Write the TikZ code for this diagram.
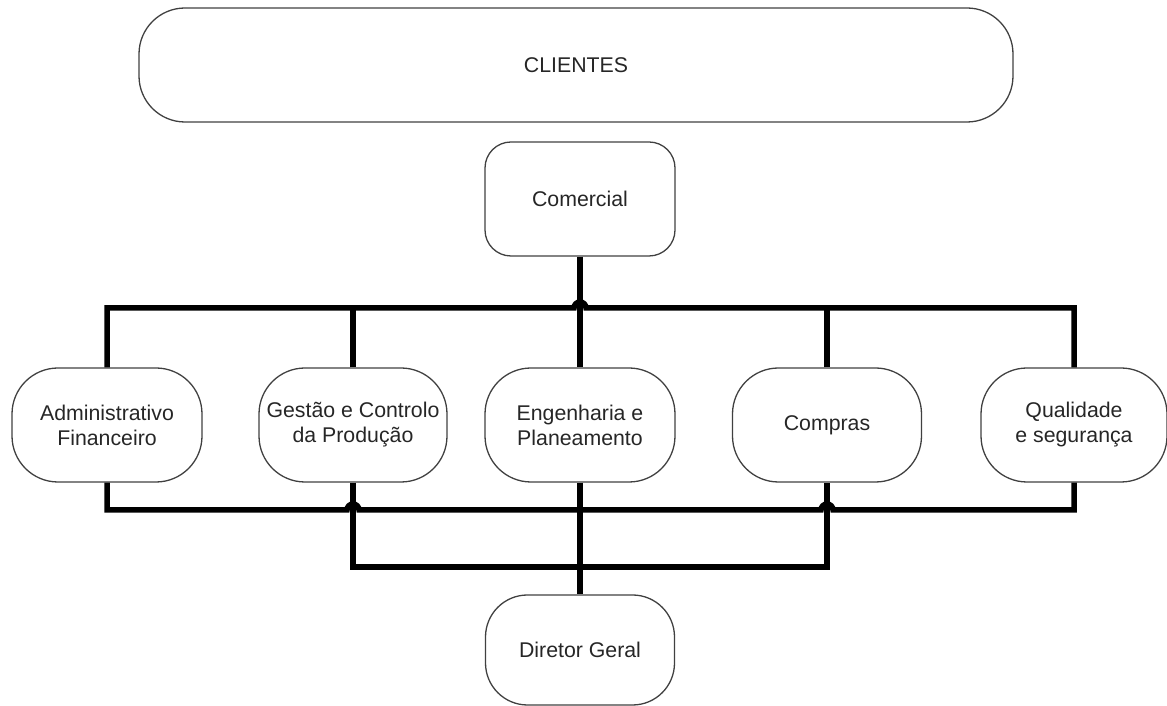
\documentclass[tikz,border=0pt]{standalone}
\usepackage{fontspec}
\setmainfont{Liberation Sans}
\usetikzlibrary{calc}
\begin{document}
\begin{tikzpicture}[x=1pt,y=1pt,
  box/.style={draw=black!75, line width=1.3pt, rectangle, align=center,
    inner sep=0pt, text=black!85, font=\fontsize{21.3}{25}\selectfont},
  rowbox/.style={box, minimum width=190pt, minimum height=114pt, rounded corners=46pt},
  conn/.style={line width=5.5pt, black}]
\path[use as bounding box] (0,0) rectangle (1167,706);

\node[box, minimum width=874pt, minimum height=114pt, rounded corners=46pt] (cli) at (576,641) {CLIENTES};
\node[box, minimum width=190pt, minimum height=114pt, rounded corners=26pt] (cm) at (580,507) {Comercial};

\node[rowbox] (adm) at (107,281) {Administrativo\\Financeiro};
\node[rowbox, minimum width=188pt] (ges) at (353,281) {Gestão e Controlo\\da Produção};
\node[rowbox] (eng) at (580,281) {Engenharia e\\Planeamento};
\node[rowbox, minimum width=189pt] (cpr) at (827,281) {Compras};
\node[rowbox, minimum width=186pt] (qua) at (1074,281) {Qualidade\\e segurança};

\node[box, minimum width=189pt, minimum height=110pt, rounded corners=42pt] (dir) at (580,56) {Diretor Geral};

\coordinate (tb) at (580,398);
\coordinate (b1) at (580,196);
\coordinate (b2) at (580,139);
\coordinate (j1) at (ges.south |- b1);
\coordinate (j2) at (cpr.south |- b1);

% Comercial -> Engenharia
\draw[conn] (cm.south) -- (eng.north);
% top bus with jump
\draw[conn] (adm.north) |- ([xshift=-6pt]tb) arc[start angle=180,end angle=0,radius=6pt] -| (qua.north);
\draw[conn] (ges.north) -- (ges.north |- tb);
\draw[conn] (cpr.north) -- (cpr.north |- tb);

% Engenharia -> Diretor
\draw[conn] (eng.south) -- (dir.north);
% bottom bus 1 with jumps
\draw[conn] (adm.south) |- ([xshift=-6pt]j1) arc[start angle=180,end angle=0,radius=6pt]
  -- ([xshift=-6pt]j2) arc[start angle=180,end angle=0,radius=6pt] -| (qua.south);
% bus 2
\draw[conn] (ges.south) |- (cpr.south |- b2) -- (cpr.south);
\end{tikzpicture}
\end{document}
